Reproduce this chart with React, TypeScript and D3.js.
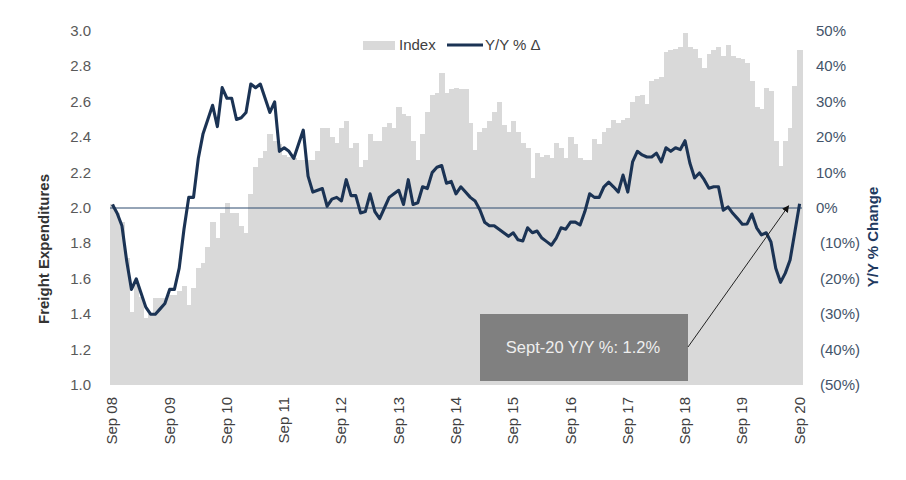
import React from "react";
import * as d3 from "d3";

const W = 906;
const H = 480;

// Monthly index (Freight Expenditures), Sep 2008 .. Sep 2020
const indexValues: number[] = [
  2.02, 1.97, 1.92, 1.72, 1.41, 1.58, 1.5, 1.38, 1.4, 1.49, 1.49, 1.49,
  1.51, 1.51, 1.53, 1.56, 1.45, 1.55, 1.66, 1.69, 1.78, 1.92, 1.83, 1.97,
  2.03, 1.97, 1.97, 1.9, 1.86, 2.08, 2.23, 2.28, 2.32, 2.42, 2.38, 2.36,
  2.3, 2.29, 2.28, 2.27, 2.27, 2.27, 2.27, 2.32, 2.45, 2.45, 2.4, 2.37,
  2.45, 2.49, 2.34, 2.37, 2.23, 2.27, 2.42, 2.38, 2.38, 2.46, 2.48, 2.45,
  2.57, 2.53, 2.52, 2.38, 2.27, 2.42, 2.54, 2.64, 2.65, 2.76, 2.65, 2.67,
  2.68, 2.67, 2.67, 2.48, 2.33, 2.43, 2.45, 2.49, 2.54, 2.6, 2.47, 2.43,
  2.49, 2.43, 2.37, 2.34, 2.17, 2.31, 2.29, 2.3, 2.28, 2.37, 2.34, 2.28,
  2.4, 2.36, 2.28, 2.27, 2.27, 2.39, 2.36, 2.43, 2.45, 2.5, 2.48, 2.5,
  2.51, 2.6, 2.63, 2.64, 2.59, 2.72, 2.73, 2.74, 2.88, 2.89, 2.9, 2.91,
  2.99, 2.91, 2.9, 2.85, 2.79, 2.87, 2.89, 2.91, 2.86, 2.92, 2.86, 2.85,
  2.84, 2.82, 2.72, 2.57, 2.56, 2.68, 2.66, 2.38, 2.24, 2.38, 2.45, 2.69,
  2.89,
];

// Monthly Y/Y % change
const yoyValues: number[] = [
  1, -1.5, -5, -15, -23, -20, -24, -28, -30, -30, -28.5, -27,
  -23, -23, -17, -6, 3, 3, 14, 21, 25, 29, 23, 34,
  31, 31, 25, 25.5, 27, 35, 34, 35, 31, 27, 30, 16,
  17, 16, 14, 18, 22, 9, 4.5, 5, 5.5, 0.5, 2.5, 3,
  2, 8, 3.5, 3.5, -1.4, -1, 4, -1, -3, 0, 3, 4,
  5, 1, 8, 1, 1.5, 6, 5.5, 10, 11.5, 12, 7, 7.5,
  4, 6, 4.5, 3, 2, -0.5, -4, -5, -5, -6, -7, -8,
  -7, -9, -9.3, -5.6, -7, -6.5, -8.5, -9.5, -10.5, -8.5, -5.6, -6,
  -4, -4, -4.8, -1, 4, 3, 3, 6, 7.3, 6, 4.5, 9.3,
  4.5, 13, 16, 15, 14.4, 14.4, 15.5, 13, 17, 16, 17, 16.5,
  19, 12.7, 8.5, 9.9, 8, 5.6, 6, 6, -0.6, 0.3, -1.5, -3,
  -4.6, -4.5, -1.7, -5.6, -7.6, -7, -9.6, -17, -21, -18.4, -14.7, -6.8,
  1.2,
];

const xTickLabels: string[] = [
  "Sep 08", "Sep 09", "Sep 10", "Sep 11", "Sep 12", "Sep 13", "Sep 14",
  "Sep 15", "Sep 16", "Sep 17", "Sep 18", "Sep 19", "Sep 20",
];
const leftTicks: number[] = [1.0, 1.2, 1.4, 1.6, 1.8, 2.0, 2.2, 2.4, 2.6, 2.8, 3.0];
const rightTicks: number[] = [-50, -40, -30, -20, -10, 0, 10, 20, 30, 40, 50];

const annotationText = "Sept-20 Y/Y %: 1.2%";

const FONT = "'Liberation Sans', Arial, Helvetica, sans-serif";
const NAVY = "#1b3354";
const BAR = "#d9d9d9";

export default function App() {
  const months = d3.range(indexValues.length);
  const x = d3.scaleBand<number>().domain(months).range([110, 802]).padding(0);
  const bw = x.bandwidth();
  const cx = (i: number) => (x(i) as number) + bw / 2;
  const yL = d3.scaleLinear().domain([1, 3]).range([385, 31]);
  const yR = d3.scaleLinear().domain([-50, 50]).range([385, 31]);

  const line = d3
    .line<number>()
    .x((_, i) => cx(i))
    .y((d) => yR(d))
    .curve(d3.curveLinear);

  const fmtR = (v: number) => (v < 0 ? `(${Math.abs(v)}%)` : `${v}%`);

  const lastI = yoyValues.length - 1;
  const boxX = 480, boxY = 314, boxW = 208, boxH = 67;
  const arrowStart: [number, number] = [boxX + boxW, boxY + 33];
  const arrowEnd: [number, number] = [cx(lastI) - 11, yR(yoyValues[lastI]) + 2];

  return (
    <svg
      width={W}
      height={H}
      style={{ position: "absolute", left: 0, top: 0, background: "#fff" }}
      fontFamily={FONT}
    >
      <defs>
        <marker id="arrow" viewBox="0 0 10 10" refX="9" refY="5" markerWidth="7" markerHeight="7" orient="auto-start-reverse">
          <path d="M0,0 L10,5 L0,10 z" fill="#111" />
        </marker>
      </defs>

      {/* bars */}
      <g shapeRendering="crispEdges">
        {indexValues.map((v, i) => (
          <rect
            key={i}
            x={x(i)}
            y={yL(v)}
            width={bw + 0.6}
            height={yL(1) - yL(v)}
            fill={BAR}
          />
        ))}
      </g>

      {/* zero line */}
      <line x1={110} x2={802} y1={yR(0)} y2={yR(0)} stroke="#2c4a6e" strokeWidth={1} />

      {/* Y/Y line */}
      <path d={line(yoyValues) || ""} fill="none" stroke={NAVY} strokeWidth={3.1} strokeLinejoin="round" />

      {/* annotation */}
      <rect x={boxX} y={boxY} width={boxW} height={boxH} fill="#808080" />
      <text x={boxX + boxW / 2 - 1} y={boxY + 39} textAnchor="middle" fontSize={16.5} fill="#eeeeee">
        {annotationText}
      </text>
      <line
        x1={arrowStart[0]}
        y1={arrowStart[1]}
        x2={arrowEnd[0]}
        y2={arrowEnd[1]}
        stroke="#222"
        strokeWidth={1}
        markerEnd="url(#arrow)"
      />

      {/* left axis labels */}
      {leftTicks.map((t) => (
        <text key={t} x={91} y={yL(t) + 5} textAnchor="end" fontSize={15} fill="#595959">
          {t.toFixed(1)}
        </text>
      ))}

      {/* right axis labels */}
      {rightTicks.map((t) => (
        <text key={t} x={t < 0 ? 820 : 816} y={yR(t) + 5} textAnchor="start" fontSize={15} fill="#44546a">
          {fmtR(t)}
        </text>
      ))}

      {/* x tick labels */}
      {xTickLabels.map((lab, k) => {
        const xi = cx(k * 12);
        return (
          <text
            key={lab}
            transform={`translate(${xi + 5},397) rotate(-90)`}
            textAnchor="end"
            fontSize={15}
            fill="#404040"
          >
            {lab}
          </text>
        );
      })}

      {/* axis titles */}
      <text transform="translate(49,249) rotate(-90)" textAnchor="middle" fontSize={15} fontWeight="bold" fill="#333333">
        Freight Expenditures
      </text>
      <text transform="translate(878,237) rotate(-90)" textAnchor="middle" fontSize={15} fontWeight="bold" fill="#1f3a60">
        Y/Y % Change
      </text>

      {/* legend */}
      <rect x={363} y={41} width={32} height={9} fill={BAR} />
      <text x={399} y={50} fontSize={15} fill="#404040">Index</text>
      <line x1={447} x2={483} y1={45} y2={45} stroke={NAVY} strokeWidth={3} />
      <text x={485} y={50} fontSize={15} fill="#404040">Y/Y % Δ</text>
    </svg>
  );
}
